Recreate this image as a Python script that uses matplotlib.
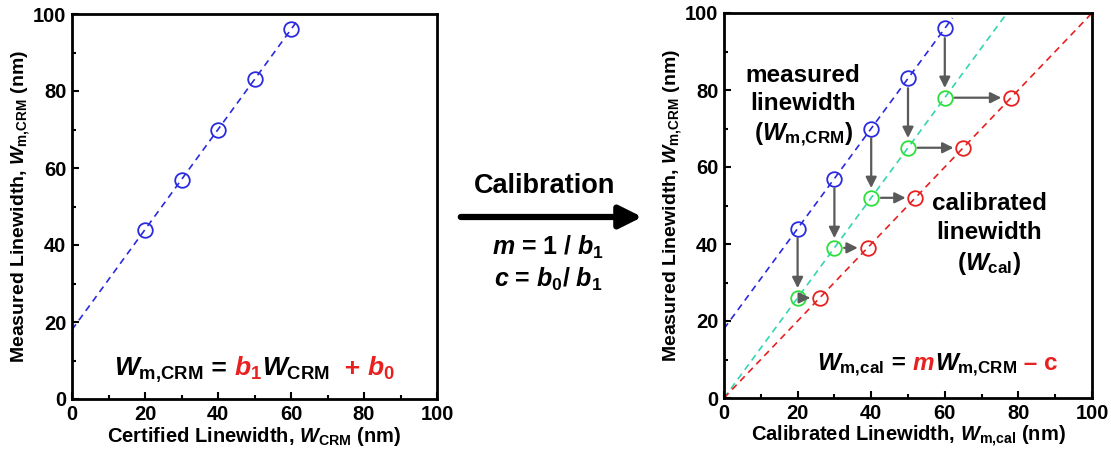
import numpy as np
import matplotlib
matplotlib.use('Agg')
import matplotlib.pyplot as plt
from matplotlib.offsetbox import TextArea, HPacker, AnchoredOffsetbox
from matplotlib.patches import FancyArrowPatch

plt.rcParams['font.family'] = ['Liberation Sans', 'DejaVu Sans']
plt.rcParams['font.weight'] = 'bold'
plt.rcParams['mathtext.fontset'] = 'custom'
plt.rcParams['mathtext.rm'] = 'Liberation Sans:bold'
plt.rcParams['mathtext.bf'] = 'Liberation Sans:bold'
plt.rcParams['mathtext.it'] = 'Liberation Sans:bold:italic'

# data
certified = [20, 30, 40, 50, 60]          # W_CRM (nm)
measured = [44, 57, 70, 83, 96]           # W_m,CRM (nm)
scaled = [26, 39, 52, 65, 78]             # b1 * W_CRM
calibrated = [26, 39, 52, 65, 78]         # W_m,cal (nm)
ticks = [0, 20, 40, 60, 80, 100]

BLUE = '#2a2ae0'
GREEN = '#2ee03a'
TEAL = '#33d6b0'
RED = '#e82020'
GREY = '#5a5a5a'

b1, b0 = np.polyfit(certified, measured, 1)

fig = plt.figure(figsize=(11.11, 4.55), dpi=100)
ax1 = fig.add_axes([72 / 1111, 56 / 455, 365 / 1111, 385 / 455])
ax2 = fig.add_axes([724 / 1111, 57 / 455, 368 / 1111, 385 / 455])


def style(ax, xlabel):
    ax.set_xlim(0, 100)
    ax.set_ylim(0, 100)
    ax.set_xticks(ticks)
    ax.set_yticks(ticks)
    ax.set_xticks(np.arange(10, 100, 20), minor=True)
    ax.set_yticks(np.arange(10, 100, 20), minor=True)
    ax.tick_params(direction='in', width=1.5, length=5, labelsize=14.5, pad=4)
    ax.tick_params(which='minor', direction='in', width=1.5, length=3)
    for s in ax.spines.values():
        s.set_linewidth(2)
    ax.set_xlabel(xlabel, fontsize=14.5, fontweight='bold', labelpad=1)
    ax.set_ylabel(r'Measured Linewidth, $\mathit{W}_{\rm m{,}CRM}$ (nm)',
                  fontsize=14, fontweight='bold', labelpad=1)


def equation(ax, parts, loc_xy, size):
    boxes = [TextArea(t, textprops=dict(color=c, fontsize=size, fontweight='bold'))
             for t, c in parts]
    pack = HPacker(children=boxes, align='baseline', pad=0, sep=0)
    ab = AnchoredOffsetbox(loc='center', child=pack, frameon=False,
                           bbox_to_anchor=loc_xy, bbox_transform=ax.transAxes,
                           borderpad=0, pad=0)
    ax.add_artist(ab)


# left panel
xl = np.linspace(0, (100 - b0) / b1 - 1, 50)
ax1.plot(xl, b1 * xl + b0, '--', color=BLUE, lw=1.2, dashes=(4, 3))
ax1.plot(certified, measured, 'o', mfc='none', mec=BLUE, ms=10.5, mew=1.3)
style(ax1, r'Certified Linewidth, $\mathit{W}_{\rm CRM}$ (nm)')
equation(ax1, [(r'$\mathit{W}_{\rm m{,}CRM}$', 'black'), (' = ', 'black'),
               (r'$\mathit{b_1}$', RED), (r'$\mathit{W}_{\rm CRM}$', 'black'),
               ('  + ', RED), (r'$\mathit{b}_{0}$', RED)], (0.5, 0.075), 19)

# right panel
ax2.plot(xl, b1 * xl + b0, '--', color=BLUE, lw=1.2, dashes=(4, 3))
xg = np.linspace(0, 100 / b1, 50)
ax2.plot(xg, b1 * xg, '--', color=TEAL, lw=1.2, dashes=(4, 3))
xr = np.linspace(0, 100, 50)
ax2.plot(xr, xr, '--', color=RED, lw=1.2, dashes=(4, 3))
for x, ym, ys, xc in zip(certified, measured, scaled, calibrated):
    ax2.annotate('', xy=(x, ys), xytext=(x, ym),
                 arrowprops=dict(arrowstyle='-|>', color=GREY, lw=1.6,
                                 shrinkA=7, shrinkB=7, mutation_scale=16))
    ax2.annotate('', xy=(xc, ys), xytext=(x, ys),
                 arrowprops=dict(arrowstyle='-|>', color=GREY, lw=1.6,
                                 shrinkA=7, shrinkB=7, mutation_scale=16))
ax2.plot(certified, measured, 'o', mfc='none', mec=BLUE, ms=10.5, mew=1.3)
ax2.plot(certified, scaled, 'o', mfc='none', mec=GREEN, ms=10.5, mew=1.3)
ax2.plot(calibrated, calibrated, 'o', mfc='none', mec=RED, ms=10.5, mew=1.3)
style(ax2, r'Calibrated Linewidth, $\mathit{W}_{\rm m{,}cal}$ (nm)')
ax2.text(0.215, 0.757, 'measured\nlinewidth\n' + r'($\mathit{W}_{\rm m{,}CRM}$)',
         transform=ax2.transAxes, ha='center', va='center', fontsize=17.5,
         fontweight='bold', linespacing=1.3)
ax2.text(0.72, 0.425, 'calibrated\nlinewidth\n' + r'($\mathit{W}_{\rm cal}$)',
         transform=ax2.transAxes, ha='center', va='center', fontsize=17.5,
         fontweight='bold', linespacing=1.3)
equation(ax2, [(r'$\mathit{W}_{\rm m{,}cal}$', 'black'), (' = ', 'black'),
               (r'$\mathit{m}$', RED), (r'$\mathit{W}_{\rm m{,}CRM}$', 'black'),
               (' \u2013 c', RED)], (0.58, 0.085), 17.5)

# calibration arrow in the middle
fig.patches.append(FancyArrowPatch((458 / 1111, 1 - 217 / 455), (645 / 1111, 1 - 217 / 455),
                                   transform=fig.transFigure, arrowstyle='-|>',
                                   mutation_scale=34, lw=4.5, color='black'))
fig.text(545 / 1111, 1 - 186 / 455, 'Calibration', ha='center', va='center',
         fontsize=19.5, fontweight='bold')
fig.text(548 / 1111, 1 - 247 / 455, r'$\mathit{m}$ = $\mathit{1}$ / $\mathit{b_1}$',
         ha='center', va='center', fontsize=18)
fig.text(548 / 1111, 1 - 279 / 455, r'$\mathit{c}$ = $\mathit{b_0}$/ $\mathit{b_1}$',
         ha='center', va='center', fontsize=18)

fig.savefig('out.png', dpi=100)
